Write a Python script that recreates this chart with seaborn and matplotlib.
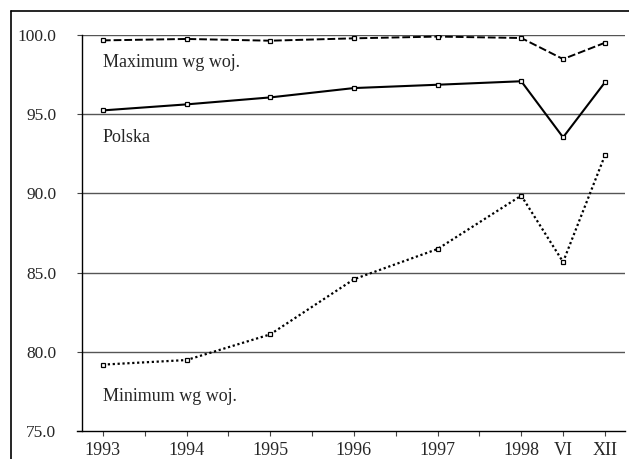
import numpy as np
import pandas as pd
import matplotlib
matplotlib.use("Agg")
import matplotlib.pyplot as plt
import seaborn as sns
from matplotlib.lines import Line2D

PERIODS = ["1993", "1994", "1995", "1996", "1997", "1998", "VI", "XII"]
X_POS = [0, 1, 2, 3, 4, 5, 5.5, 6]
MAXIMUM = [99.66, 99.75, 99.64, 99.79, 99.90, 99.81, 98.48, 99.51]
POLSKA = [95.24, 95.62, 96.06, 96.65, 96.86, 97.08, 93.54, 97.01]
MINIMUM = [79.19, 79.48, 81.10, 84.58, 86.49, 89.86, 85.67, 92.40]
Y_TICKS = [75, 80, 85, 90, 95, 100]

FONT = ["Liberation Serif", "DejaVu Serif"]


def main():
    sns.set_style("white")
    plt.rcParams["font.family"] = FONT

    df = pd.DataFrame({"x": X_POS, "max": MAXIMUM, "pol": POLSKA, "min": MINIMUM})

    fig = plt.figure(figsize=(6.29, 4.59), dpi=100)
    ax = fig.add_axes([82 / 629, 1 - 431 / 459, 543 / 629, 396 / 459])

    for y in Y_TICKS[1:]:
        ax.axhline(y, color="#555555", lw=1.0, zorder=1)

    common = dict(x="x", ax=ax, color="black", marker="s", markersize=3,
                  markerfacecolor="white", markeredgecolor="black",
                  markeredgewidth=0.9, zorder=3)
    sns.lineplot(data=df, y="max", linestyle=(0, (4, 1.5)), lw=1.4, **common)
    sns.lineplot(data=df, y="pol", linestyle="-", lw=1.5, **common)
    sns.lineplot(data=df, y="min", linestyle=(0, (1, 1.2)), lw=1.6, **common)

    ax.set_xlim(-0.25, 6.24)
    ax.set_ylim(75, 100)
    ax.set_xlabel("")
    ax.set_ylabel("")

    ax.set_yticks(Y_TICKS)
    ax.set_yticklabels([f"{v:.1f}" for v in Y_TICKS], fontsize=12.5)
    ax.set_xticks(X_POS)
    ax.set_xticklabels(PERIODS, fontsize=13)
    ax.set_xticks([0.5, 1.5, 2.5, 3.5, 4.5], minor=True)
    ax.tick_params(axis="x", which="both", direction="out", length=3.5,
                   width=0.8, color="#444444", bottom=True)
    ax.tick_params(axis="x", which="major", pad=4.5)
    ax.tick_params(axis="y", direction="out", length=3.6, width=0.8,
                   color="#444444", pad=15, left=True)

    for side in ["top", "right"]:
        ax.spines[side].set_visible(False)
    ax.spines["left"].set_color("black")
    ax.spines["bottom"].set_color("black")
    ax.spines["left"].set_linewidth(1.0)
    ax.spines["bottom"].set_linewidth(1.0)
    ax.spines["bottom"].set_bounds(-0.31, 6.24)

    ax.text(0.0, 98.25, "Maximum wg woj.", fontsize=13, va="center", ha="left")
    ax.text(0.0, 93.55, "Polska", fontsize=13, va="center", ha="left")
    ax.text(0.0, 77.2, "Minimum wg woj.", fontsize=13, va="center", ha="left")

    # outer frame (left and top edges only are visible)
    fig.add_artist(Line2D([10.5 / 629, 10.5 / 629], [0, 1 - 11 / 459],
                          transform=fig.transFigure, color="black", lw=1.2))
    fig.add_artist(Line2D([10.5 / 629, 1], [1 - 11 / 459, 1 - 11 / 459],
                          transform=fig.transFigure, color="black", lw=1.2))

    fig.savefig("out.png", dpi=100)


if __name__ == "__main__":
    main()
